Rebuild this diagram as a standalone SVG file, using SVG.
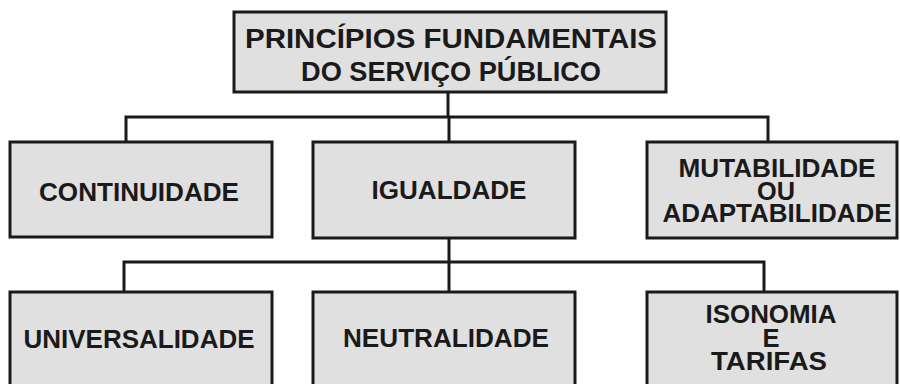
<svg xmlns="http://www.w3.org/2000/svg" width="900" height="384" viewBox="0 0 900 384">
<style>
.box{fill:#e0e0e0;stroke:#1a1a1a;stroke-width:3}
.t{font-family:"Liberation Sans",Arial,sans-serif;font-weight:bold;fill:#1a1a1a;text-anchor:middle}
.s{font-size:25.5px}
.title{font-size:27px}
.c{fill:none;stroke:#1a1a1a;stroke-width:3}
</style>
<rect width="900" height="384" fill="#ffffff"/>
<g id="connectors">
<path class="c" d="M448 92 V117 M126 142 V117 H768 V142 M449 117 V142"/>
<path class="c" d="M449 238 V292 M124 292 V262 H764 V292"/>
</g>
<g id="n-principios">
<rect class="box" x="234" y="12" width="432" height="80"/>
<text class="t title" x="451" y="48" textLength="412" lengthAdjust="spacingAndGlyphs">PRINCÍPIOS FUNDAMENTAIS</text>
<text class="t title" x="451" y="81" textLength="300" lengthAdjust="spacingAndGlyphs">DO SERVIÇO PÚBLICO</text>
</g>
<g id="n-continuidade">
<rect class="box" x="10" y="142" width="262" height="95"/>
<text class="t s" x="139" y="201" textLength="200" lengthAdjust="spacingAndGlyphs">CONTINUIDADE</text>
</g>
<g id="n-igualdade">
<rect class="box" x="313" y="142" width="262" height="96"/>
<text class="t s" x="449" y="199" textLength="155" lengthAdjust="spacingAndGlyphs">IGUALDADE</text>
</g>
<g id="n-mutabilidade">
<rect class="box" x="647" y="142" width="250" height="96"/>
<text class="t s" x="777" y="177" textLength="197" lengthAdjust="spacingAndGlyphs">MUTABILIDADE</text>
<text class="t s" x="776" y="200" textLength="38" lengthAdjust="spacingAndGlyphs">OU</text>
<text class="t s" x="777" y="222" textLength="229" lengthAdjust="spacingAndGlyphs">ADAPTABILIDADE</text>
</g>
<g id="n-universalidade">
<rect class="box" x="10" y="292" width="262" height="110"/>
<text class="t s" x="139" y="348" textLength="231" lengthAdjust="spacingAndGlyphs">UNIVERSALIDADE</text>
</g>
<g id="n-neutralidade">
<rect class="box" x="313" y="292" width="262" height="110"/>
<text class="t s" x="446" y="347" textLength="206" lengthAdjust="spacingAndGlyphs">NEUTRALIDADE</text>
</g>
<g id="n-isonomia">
<rect class="box" x="647" y="292" width="250" height="110"/>
<text class="t s" x="771" y="323" textLength="131" lengthAdjust="spacingAndGlyphs">ISONOMIA</text>
<text class="t s" x="771" y="347">E</text>
<text class="t s" x="769" y="370" textLength="116" lengthAdjust="spacingAndGlyphs">TARIFAS</text>
</g>
</svg>
